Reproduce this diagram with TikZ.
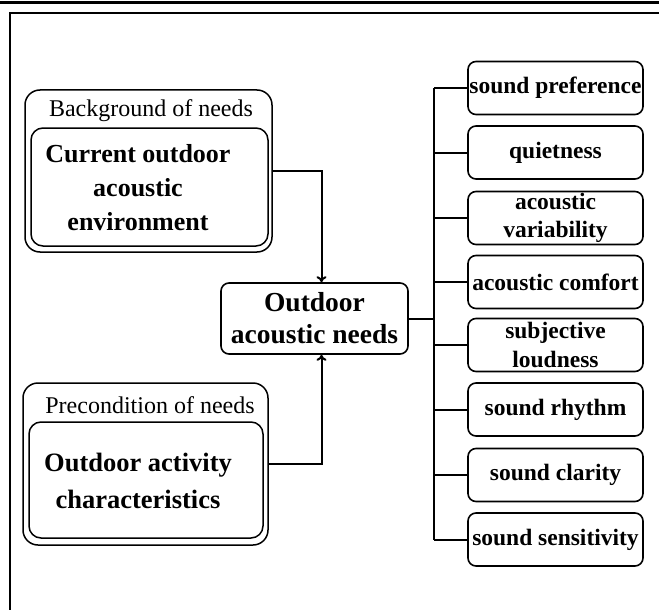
\documentclass[tikz,border=0pt]{standalone}
\usepackage{fontspec}
\setmainfont{Liberation Serif}
\usetikzlibrary{arrows.meta}
\begin{document}
\begin{tikzpicture}[x=1pt, y=-1pt, conn/.style={line width=2pt}]
\tikzstyle{outerbox}=[draw,line width=1.5pt,rounded corners=15pt,minimum width=247pt,minimum height=162pt,inner sep=0pt]
\tikzstyle{innerbox}=[draw,line width=1.5pt,rounded corners=12pt,inner sep=0pt]
\tikzstyle{itembox}=[draw,line width=1.6pt,rounded corners=8pt,minimum width=175pt,minimum height=53pt,inner sep=0pt,align=center,font=\bfseries\fontsize{23.5}{28.5}\selectfont]
  \useasboundingbox (0,0) rectangle (659,610);
  % frame
  \draw[line width=3pt] (0,3) -- (659,3);
  \draw[line width=2pt] (662,13) -- (10,13) -- (10,614);
  % background and precondition
  \node[outerbox] (bgbox) at (148.5,171) {};
  \node[font=\fontsize{24}{28}\selectfont] (bgtitle) at (151,111) {Background of needs};
  \node[innerbox,minimum width=237pt,minimum height=118pt] (envbox) at (149.5,187) {};
  \node[align=center,font=\bfseries\fontsize{26}{34}\selectfont] (envtext) at (138,188) {Current outdoor\\acoustic\\environment};
  \node[outerbox,minimum width=245pt] (precbox) at (145.5,464) {};
  \node[font=\fontsize{24}{28}\selectfont] (prectitle) at (150,405) {Precondition of needs};
  \node[innerbox,minimum width=234pt,minimum height=116pt] (actbox) at (146,480) {};
  \node[align=center,font=\bfseries\fontsize{26.5}{37}\selectfont] (acttext) at (138,481) {Outdoor activity\\characteristics};
  % needs
  \node[itembox,minimum width=187pt,minimum height=71pt,font=\bfseries\fontsize{27.5}{32}\selectfont] (needs) at (314.5,318.5) {Outdoor\\acoustic needs};
  \foreach \place/\name/\text in {{(555.5,88)/pref/sound preference},
                                  {(555.5,152.5)/quiet/quietness},
                                  {(555.5,218)/var/acoustic\\variability},
                                  {(555.5,282)/comfort/acoustic comfort},
                                  {(555.5,345)/loud/subjective\\loudness},
                                  {(555.5,409.5)/rhythm/sound rhythm},
                                  {(555.5,475)/clarity/sound clarity},
                                  {(555.5,539.5)/sens/sound sensitivity}}
    \node[itembox] (\name) at \place {\text};
  % connectors
  \coordinate (bus) at (434,318.5);
  \draw[conn,-{To[length=6pt,width=10pt]}] (bgbox.east) -| ([xshift=7pt]needs.north);
  \draw[conn,-{To[length=6pt,width=10pt]}] (precbox.east) -| ([xshift=7pt]needs.south);
  \draw[conn] (needs.east) -- (needs.east -| bus);
  \draw[conn] (bus |- pref.west) -- (bus |- sens.west);
  \foreach \name in {pref,quiet,var,comfort,loud,rhythm,clarity,sens}
    \draw[conn] (bus |- \name.west) -- (\name.west);
\end{tikzpicture}
\end{document}
